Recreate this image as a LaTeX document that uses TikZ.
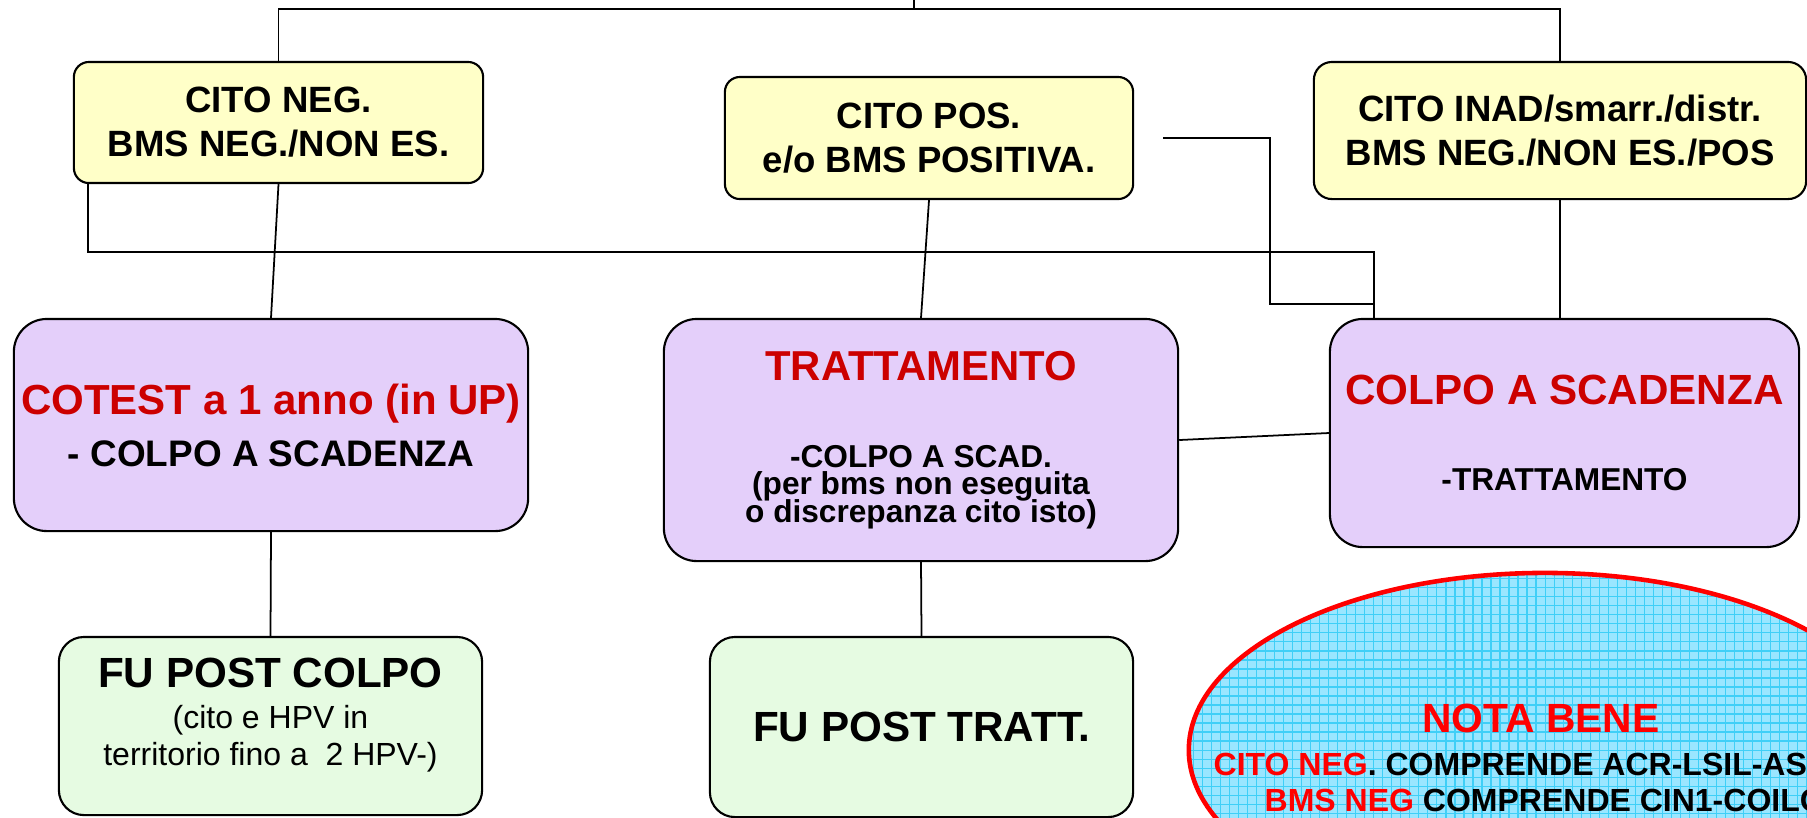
\documentclass[tikz,border=0pt]{standalone}
\usepackage{fontspec}
\setmainfont{Liberation Sans}
\usepackage{tikz}
\usetikzlibrary{shapes.geometric}
\definecolor{esitofill}{HTML}{FFFFC8}
\definecolor{azionefill}{HTML}{E4CFFA}
\definecolor{fufill}{HTML}{E6FBE2}
\definecolor{notafill}{HTML}{9AE6FF}
\definecolor{notagrid}{HTML}{3FCFF7}
\definecolor{scuro}{HTML}{CC0000}
\lineskiplimit=-100pt
\tikzset{%
    esito/.style={draw, fill=esitofill, line width=0.6pt, rounded corners=0.15cm,
        inner sep=0pt, align=center, font=\fontsize{10.4}{12.5}\selectfont\bfseries},
    azione/.style={draw, fill=azionefill, line width=0.6pt, rounded corners=0.33cm,
        inner sep=0pt, align=center},
    followup/.style={draw, fill=fufill, line width=0.6pt, rounded corners=0.25cm,
        inner sep=0pt, align=center},
    notatesto/.style={inner sep=0pt, font=\fontsize{9.1}{11}\selectfont\bfseries},
    link/.style={line width=0.5pt}
}

\begin{document}
\begin{tikzpicture}[x=0.01cm, y=-0.01cm]
      \clip (0,0) rectangle (1807,817);
      \useasboundingbox (0,0) rectangle (1807,817);

      % esiti
      \node[esito, minimum width=4.09cm, minimum height=1.21cm] (cneg) at (278.5,122.5)
          {CITO NEG.\\BMS NEG./NON ES.};
      \node[esito, minimum width=4.08cm, minimum height=1.22cm] (cpos) at (929,138)
          {CITO POS.\\e/o BMS POSITIVA.};
      \node[esito, minimum width=4.92cm, minimum height=1.37cm, rounded corners=0.18cm] (cinad) at (1560,130.5)
          {CITO INAD/smarr./distr.\\BMS NEG./NON ES./POS};

      % azioni
      \node[azione, minimum width=5.14cm, minimum height=2.12cm,
          font=\fontsize{10.5}{14.8}\selectfont\bfseries] (cotest) at (271,425)
          {{\color{scuro}\fontsize{11.95}{14.8}\selectfont COTEST a 1 anno (in UP)}\\- COLPO A SCADENZA};
      \node[azione, minimum width=5.14cm, minimum height=2.42cm,
          font=\fontsize{9}{7.8}\selectfont\bfseries] (tratt) at (921,440)
          {{\color{scuro}\fontsize{11.9}{7.8}\selectfont TRATTAMENTO}\\[17pt]-COLPO A SCAD.\\(per bms non eseguita\\o discrepanza cito isto)};
      \node[azione, minimum width=4.69cm, minimum height=2.28cm,
          font=\fontsize{9}{24.5}\selectfont\bfseries] (colpo) at (1564.5,433)
          {{\color{scuro}\fontsize{12}{24.5}\selectfont COLPO A SCADENZA}\\-TRATTAMENTO};

      % follow up
      \node[followup, minimum width=4.23cm, minimum height=1.78cm] (fucolpo) at (270.5,726) {};
      \node[align=center, inner sep=0pt, font=\fontsize{9.1}{10.6}\selectfont] (fucolpotxt) at (270.5,715)
          {{\bfseries\fontsize{12}{10.6}\selectfont FU POST COLPO}\\[1.1pt](cito e HPV in\\territorio fino a\ \ 2 HPV-)};
      \node[followup, minimum width=4.23cm, minimum height=1.80cm,
          font=\fontsize{12}{14}\selectfont\bfseries] (futratt) at (921.5,727) {FU POST TRATT.};

      % nota bene
      \node[ellipse, draw=red, line width=1.3pt, fill=notafill, minimum width=7.12cm, minimum height=3.54cm,
          path picture={\draw[notagrid, line width=0.3pt] (path picture bounding box.south west)
              grid[step=0.09cm] (path picture bounding box.north east);}] (nota) at (1545,750) {};
      \node[text=red, anchor=base, inner sep=0pt, font=\fontsize{11.6}{14}\selectfont\bfseries] (notatit) at (1541,732) {NOTA BENE};
      \node[notatesto, anchor=base west] (notaneg) at (1213,775)
          {\textcolor{red}{CITO NEG}. COMPRENDE ACR-LSIL-ASC};
      \node[notatesto, anchor=base west] (notabms) at (1264,811)
          {\textcolor{red}{BMS NEG} COMPRENDE CIN1-COILO};

      % connettori
      \coordinate (radice) at (914,9);
      \coordinate (posout) at (1163,138);
      \coordinate (posgiu) at (1270,304);
      \coordinate (colpoin) at ([xshift=0.45cm]colpo.north west);
      \draw[link] (cneg.north) |- (radice) -| (cinad.north);
      \draw[link] (radice) -- (914,0);
      \draw[link] (cneg.south) -- (cotest.north);
      \draw[link] (cpos.south) -- (tratt.north);
      \draw[link] (cinad.south) -- (cinad.south |- colpo.north);
      \draw[link] ([xshift=0.15cm]cneg.south west) -- ++(0,68) -| (colpoin);
      \draw[link] (posout) -| (posgiu) -- (posgiu -| colpoin);
      \draw[link] (tratt.east) -- (colpo.west);
      \draw[link] (cotest.south) -- (fucolpo.north);
      \draw[link] (tratt.south) -- (futratt.north);
\end{tikzpicture}
\end{document}
